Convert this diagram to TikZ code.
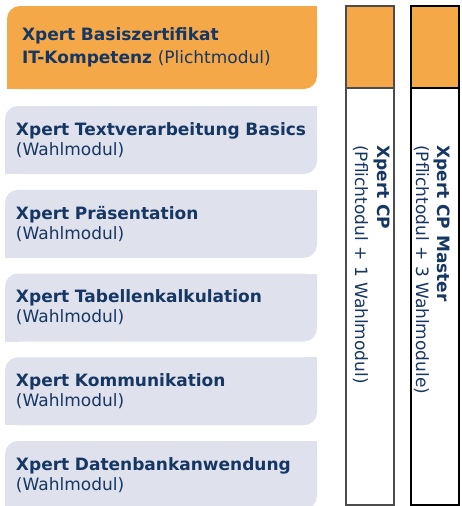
\documentclass[tikz,border=0pt]{standalone}
\usepackage{fontspec}
\setmainfont{DejaVu Sans}
\usepackage{tikz}
\usetikzlibrary{positioning,calc}
\definecolor{myorange}{RGB}{245,168,72}
\definecolor{mygrey}{RGB}{223,226,236}
\definecolor{mynavy}{RGB}{22,54,100}
\tikzset{
    modbox/.style={
        rectangle, rounded corners=13pt, fill=#1,
        anchor=north west, outer sep=0pt,
        inner xsep=11pt, inner ysep=0pt,
        text width=290pt, align=left,
        minimum height=68pt, text=mynavy,
        font=\fontsize{17}{20}\selectfont
    },
    colbox/.style={
        draw, line width=2pt, rectangle,
        anchor=north west, inner sep=0pt, outer sep=0pt,
        minimum width=48pt, minimum height=#1
    }
}

\begin{document}
\begin{tikzpicture}[
      x=1pt, y=-1pt,
  coltext/.style={
    rotate=-90,
    anchor=base west,
    inner sep=0pt,
    text=mynavy,
    font=\fontsize{17}{20}\selectfont
    }
      ]
\useasboundingbox (0,0) rectangle (462,506);

% modules
\node[modbox=myorange, inner xsep=15pt, text width=280pt, minimum height=83pt,
  font=\fontsize{17}{23}\selectfont]
	(basis) at (7,6)
  {\textbf{Xpert Basiszertifikat}\\ \textbf{IT-Kompetenz} (Plichtmodul)};

\foreach \Modul [count=\Modi from 0] in {Textverarbeitung Basics, Präsentation, Tabellenkalkulation, Kommunikation, Datenbankanwendung}
  \node[modbox=mygrey] (wahl\Modi) at (5,106+83.75*\Modi) {\mbox{\textbf{Xpert \Modul}}\\ (Wahlmodul)};

% square corners top right and bottom left
\foreach \Box/\Farbe in {basis/myorange, wahl0/mygrey, wahl1/mygrey, wahl2/mygrey, wahl3/mygrey, wahl4/mygrey}
{
  \fill[\Farbe] (\Box.north east) rectangle ++(-14,14);
  \fill[\Farbe] (\Box.south west) rectangle ++(14,-14);
}

% certificates
\node[colbox=499pt, draw=black!70] (cp) at (346,6) {};
\node[colbox=82pt, fill=myorange, draw=black!70] (cphead) at (346,6) {};
\node[coltext] (cpname) at (377,145) {\textbf{Xpert CP}};
\node[coltext] (cpmod) at (355,145) {(Pflichtodul + 1 Wahlmodul)};

\node[colbox=499pt] (master) at (411,6) {};
\node[colbox=82pt, fill=myorange] (masterhead) at (411,6) {};
\node[coltext] (mastername) at (437,145) {\textbf{Xpert CP Master}};
\node[coltext] (mastermod) at (416,145) {(Pflichtodul + 3 Wahlmodule)};

\end{tikzpicture}
\end{document}
